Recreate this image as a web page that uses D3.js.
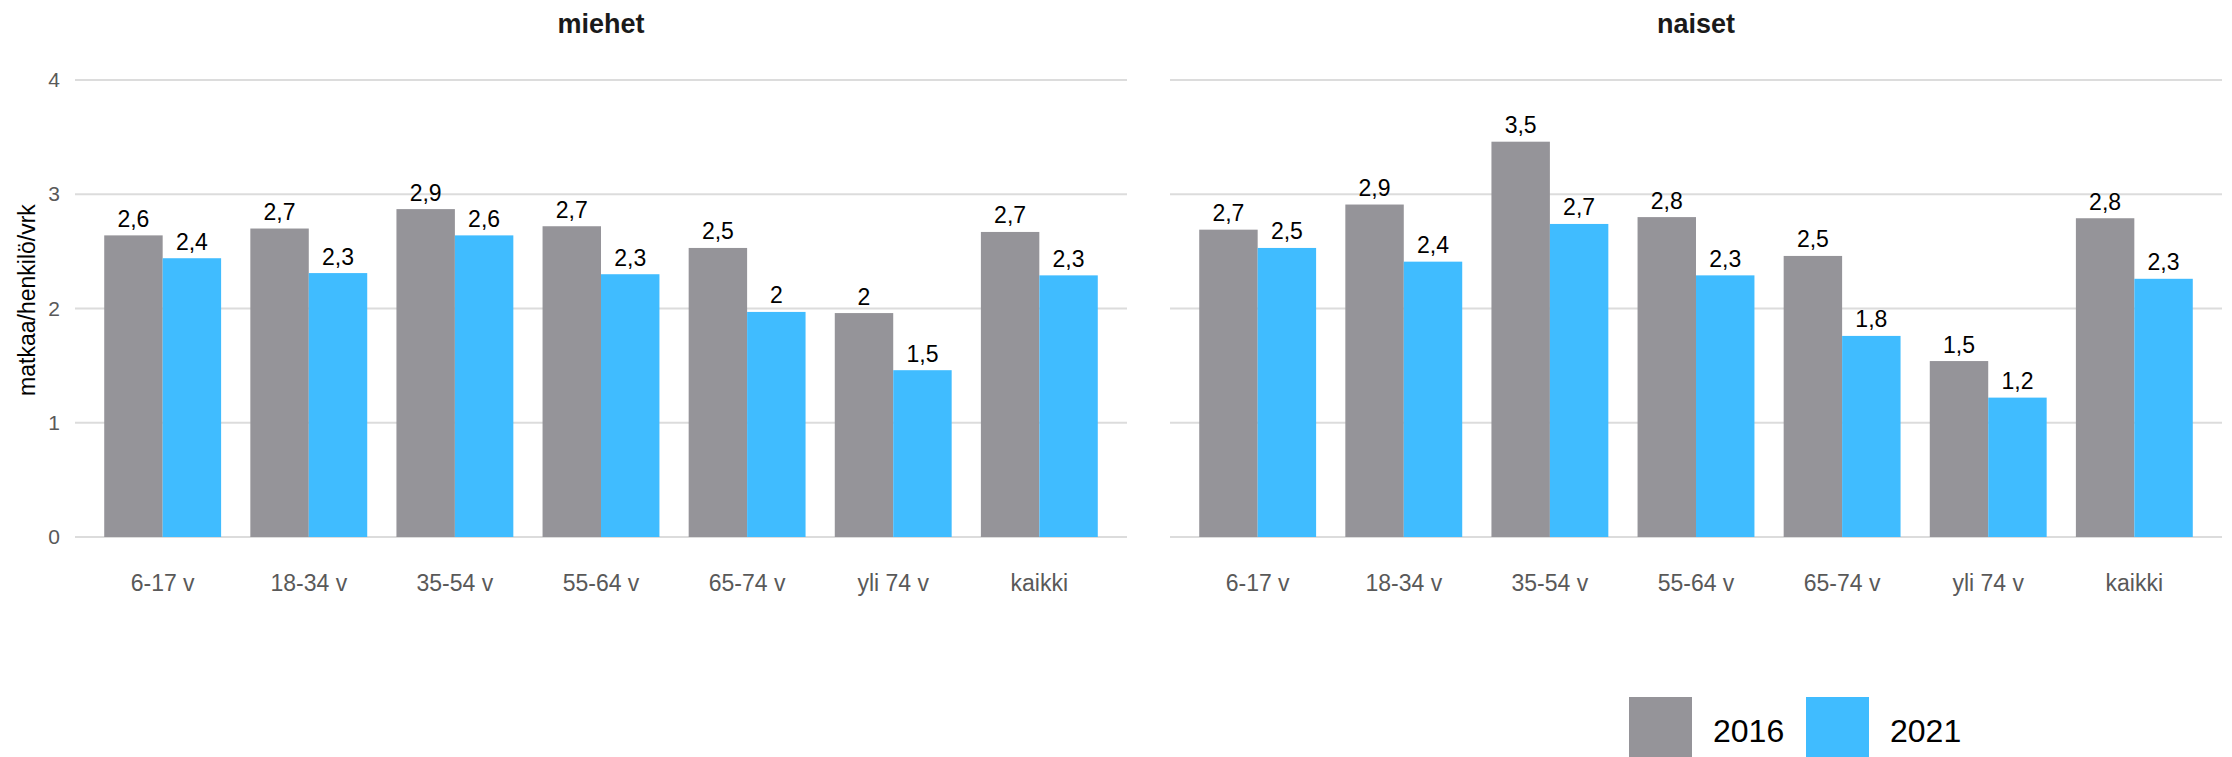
<!DOCTYPE html>
<html>
<head>
<meta charset="utf-8">
<script src="https://cdn.jsdelivr.net/npm/d3@7"></script>
<style>
  html, body { margin: 0; padding: 0; background: #ffffff; }
  svg { display: block; font-family: "Liberation Sans", Arial, Helvetica, sans-serif; }
</style>
</head>
<body>
<svg id="chart" width="2232" height="757"></svg>
<script>
// ---- data ----
const categories = ["6-17 v", "18-34 v", "35-54 v", "55-64 v", "65-74 v", "yli 74 v", "kaikki"];
const seriesNames = ["2016", "2021"];
const panelTitles = ["miehet", "naiset"];
const miehet2016 = [2.64, 2.70, 2.87, 2.72, 2.53, 1.96, 2.67];
const miehet2021 = [2.44, 2.31, 2.64, 2.30, 1.97, 1.46, 2.29];
const naiset2016 = [2.69, 2.91, 3.46, 2.80, 2.46, 1.54, 2.79];
const naiset2021 = [2.53, 2.41, 2.74, 2.29, 1.76, 1.22, 2.26];
const yTicks = [0, 1, 2, 3, 4];
const yTitle = "matkaa/henkilö/vrk";

// ---- styling ----
const colors = { "2016": "#959499", "2021": "#40bcff" };
const W = 2232, H = 757;
const svg = d3.select("#chart");

const y = d3.scaleLinear().domain([0, 4]).range([537, 80]);
const panels = [
  { title: panelTitles[0], range: [75, 1127], data: [miehet2016, miehet2021], showY: true },
  { title: panelTitles[1], range: [1170, 2222], data: [naiset2016, naiset2021], showY: false }
];

const fmt = v => {
  const r = Math.round(v * 10) / 10;
  return (Number.isInteger(r) ? r.toFixed(0) : r.toFixed(1)).replace(".", ",");
};

panels.forEach(p => {
  const g = svg.append("g");
  const x0 = d3.scaleBand().domain(categories).range(p.range).paddingInner(0.2).paddingOuter(0.2);
  const x1 = d3.scaleBand().domain(seriesNames).range([0, x0.bandwidth()]).padding(0);

  // gridlines
  g.selectAll("line.grid").data(yTicks).enter().append("line")
    .attr("x1", p.range[0]).attr("x2", p.range[1])
    .attr("y1", d => y(d)).attr("y2", d => y(d))
    .attr("stroke", "#dcdcdc").attr("stroke-width", 2);

  // y tick labels
  if (p.showY) {
    const yAxis = d3.axisLeft(y).tickValues(yTicks).tickSize(0).tickPadding(0).tickFormat(d3.format("d"));
    const ya = g.append("g").attr("transform", "translate(60,0)").call(yAxis);
    ya.select(".domain").remove();
    ya.selectAll("text").attr("font-size", 21).attr("fill", "#595959")
      .attr("font-family", "Liberation Sans, Arial, sans-serif");

    svg.append("text")
      .attr("transform", "translate(35,300) rotate(-90)")
      .attr("text-anchor", "middle")
      .attr("font-size", 23).attr("fill", "#000")
      .text(yTitle);
  }

  // x axis labels
  const xAxis = d3.axisBottom(x0).tickSize(0).tickPadding(0);
  const xa = g.append("g").attr("transform", "translate(0,575)").call(xAxis);
  xa.select(".domain").remove();
  xa.selectAll("text").attr("font-size", 23).attr("fill", "#595959")
    .attr("dy", "0.71em")
    .attr("font-family", "Liberation Sans, Arial, sans-serif");

  // bars
  const rows = categories.map((c, i) => ({ c, vals: seriesNames.map((s, j) => ({ s, v: p.data[j][i] })) }));
  const grp = g.selectAll("g.grp").data(rows).enter().append("g")
    .attr("transform", d => `translate(${x0(d.c)},0)`);
  grp.selectAll("rect").data(d => d.vals).enter().append("rect")
    .attr("x", d => x1(d.s)).attr("width", x1.bandwidth())
    .attr("y", d => y(d.v)).attr("height", d => y(0) - y(d.v))
    .attr("fill", d => colors[d.s]);
  grp.selectAll("text.val").data(d => d.vals).enter().append("text")
    .attr("class", "val")
    .attr("x", d => x1(d.s) + x1.bandwidth() / 2)
    .attr("y", d => y(d.v) - 8.5)
    .attr("text-anchor", "middle")
    .attr("font-size", 23).attr("fill", "#000")
    .text(d => fmt(d.v));

  // panel title
  svg.append("text")
    .attr("x", (p.range[0] + p.range[1]) / 2).attr("y", 33)
    .attr("text-anchor", "middle")
    .attr("font-size", 27).attr("font-weight", "bold").attr("fill", "#1a1a1a")
    .text(p.title);
});

// legend
const legendX = [1629, 1806];
seriesNames.forEach((s, i) => {
  svg.append("rect").attr("x", legendX[i]).attr("y", 697).attr("width", 63).attr("height", 70)
    .attr("fill", colors[s]);
  svg.append("text").attr("x", legendX[i] + 84).attr("y", 742)
    .attr("font-size", 32).attr("fill", "#000").text(s);
});
</script>
</body>
</html>
